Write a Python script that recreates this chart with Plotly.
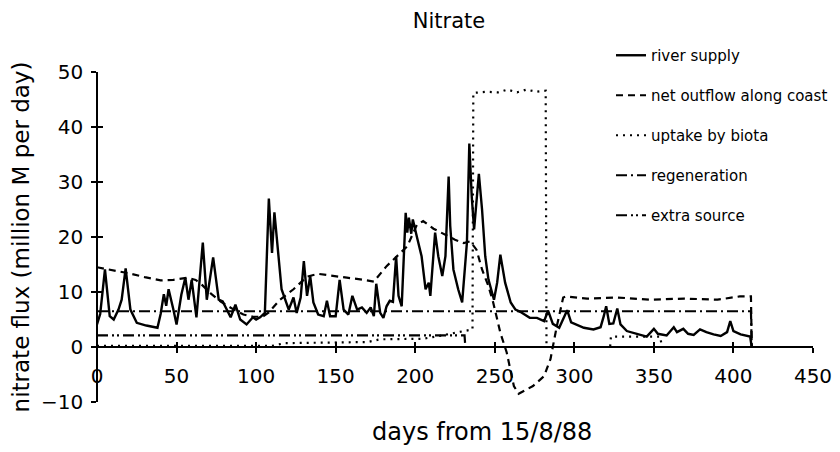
import plotly.graph_objects as go

# ---------------- data ----------------
river_day = [0, 2, 5, 8, 10.5, 13.5, 15.5, 18, 21, 25, 31, 38, 40, 42, 43.5, 45, 48, 50, 53, 55.5,
             57.5, 59.5, 62.5, 66.5, 69, 73, 76.5, 79, 84, 87, 90, 94, 98, 100, 102.5, 105.5, 108,
             110, 111.5, 114, 116, 120.5, 123.5, 125.5, 128, 130, 132, 134, 136, 139, 142.5, 144.5,
             146.5, 150, 152.5, 155, 158, 160.5, 163.5, 166.5, 169.5, 172, 174, 175.5, 178, 180, 182,
             184, 186, 188, 189.5, 191.5, 194, 195, 196, 197.5, 198.5, 201, 204, 206.5, 208.5, 209.5,
             212.5, 214.5, 217, 219, 221, 222, 224, 227, 229.5, 232.5, 234, 235.5, 237, 240, 242, 244,
             246, 249.5, 251.5, 253.5, 256.5, 260, 263, 266, 270, 272, 276.5, 281, 283.5, 286.5, 290.5,
             295.5, 298, 302, 306, 312, 316.5, 318.5, 320, 322, 324.5, 327, 329, 333, 339.5, 345.5,
             350, 352.5, 358, 362.5, 364.5, 368.5, 371.5, 375, 379, 383, 387.5, 392, 396, 398, 400,
             404.5, 410.5, 411.5]
river_val = [4.1, 6.0, 14.1, 5.6, 5.0, 6.8, 8.6, 14.3, 6.8, 4.4, 3.9, 3.5, 6.0, 9.6, 7.5, 10.5, 6.8, 4.1, 9.5, 12.6,
             8.6, 12.2, 5.4, 19.0, 8.6, 16.3, 8.6, 8.3, 5.4, 7.7, 5.0, 4.1, 5.4, 5.0, 5.4, 6.2, 27.0,
             17.1, 24.5, 17.1, 10.5, 6.8, 9.0, 6.2, 9.0, 15.6, 9.3, 12.9, 8.1, 5.9, 5.6, 8.4,
             5.6, 5.6, 12.2, 6.8, 5.9, 9.3, 6.8, 7.2, 6.2, 7.2, 5.6, 11.5, 6.2, 5.3, 7.4,
             8.4, 8.2, 16.5, 9.3, 7.4, 24.4, 20.8, 23.5, 20.6, 23.2, 20.1, 16.5, 10.5, 11.7, 9.3,
             20.8, 16.5, 12.9, 16.5, 31.0, 22.0, 14.1, 10.5, 8.1, 19.0, 37.0, 27.4, 21.4, 31.5, 25.0, 16.5,
             12.3, 8.6, 11.7, 16.8, 11.7, 8.1, 6.8, 6.4, 5.6, 5.3, 5.3, 4.7, 6.6, 4.2, 3.5,
             6.7, 4.5, 4.0, 3.5, 3.2, 3.6, 5.6, 7.4, 4.2, 4.3, 7.0, 4.1, 2.9, 2.4, 1.9,
             3.3, 2.4, 2.1, 3.6, 2.7, 3.3, 2.4, 2.2, 3.2, 2.7, 2.3, 2.0, 2.7, 4.7, 2.9,
             2.3, 1.9, 0.0]

outflow_day = [0, 10, 20, 30, 40, 48, 57, 62, 66, 72, 78, 86, 92, 98, 104, 108, 115, 123.5, 132, 139,
               148, 157, 165.5, 174, 182, 188.5, 195, 201, 205, 211.5, 218, 225, 230.5, 234.5, 238.5,
               242, 246, 249, 253.5, 257.5, 262, 265, 274, 281, 285, 289, 293, 295, 308, 327, 348,
               369, 390, 404, 411, 411.5]
outflow_val = [14.5, 14.0, 13.4, 12.7, 12.1, 12.2, 12.6, 12.2, 11.3, 9.6, 8.2, 6.8, 5.9, 5.5, 5.5, 6.3, 8.6, 10.5, 12.8, 13.3,
               12.9, 12.6, 12.3, 11.9, 14.7, 16.5, 18.3, 22.2, 22.9, 21.5, 20.6, 19.5, 18.9, 19.2, 17.7,
               14.1, 11.1, 8.1, 2.6, -1.0, -7.1, -8.5, -7.1, -5.3, -2.2, 3.8, 9.0, 9.2, 8.8, 9.0, 8.6,
               8.8, 8.6, 9.2, 9.2, 0.0]

uptake_day = [0, 110, 118, 150, 170, 178, 205, 215, 226, 236, 236.5, 245, 252, 258, 264, 270, 276, 282,
              282.5, 322.5, 323, 354, 355, 411.5]
uptake_val = [0.2, 0.2, 0.7, 0.8, 0.9, 1.4, 1.5, 2.0, 2.6, 3.2, 46.2, 46.4, 46.3, 46.8, 46.3, 46.8, 46.4, 46.6,
              0.0, 0.0, 1.9, 1.9, 0.0, 0.0]

regen_day = [0, 100, 200, 300, 411, 411.5]
regen_val = [6.5, 6.5, 6.5, 6.5, 6.5, 0.0]

extra_day = [0, 100, 200, 231, 231.5, 411.5]
extra_val = [2.1, 2.1, 2.1, 2.1, 0.0, 0.0]

x_ticks = [0, 50, 100, 150, 200, 250, 300, 350, 400, 450]
y_ticks = [-10, 0, 10, 20, 30, 40, 50]

TITLE = "Nitrate"
X_TITLE = "days from 15/8/88"
Y_TITLE = "nitrate flux (million M per day)"

FONT = "DejaVu Sans"

series = [
    ("river supply", river_day, river_val, "solid", 2.4),
    ("net outflow along coast", outflow_day, outflow_val, "7px,5px", 2.2),
    ("uptake by biota", uptake_day, uptake_val, "2px,5px", 2.2),
    ("regeneration", regen_day, regen_val, "11px,4px,2px,4px", 2.2),
    ("extra source", extra_day, extra_val, "11px,4px,2px,3px,2px,4px", 2.2),
]

fig = go.Figure()
for i, (name, xd, yd, dash, w) in enumerate(series):
    fig.add_trace(go.Scatter(x=xd, y=yd, mode="lines", name=name, legendgroup=f"g{i}",
                             line=dict(color="black", width=w, dash=dash)))

# helper (empty) trace so that the crossing-tick overlay axes are drawn
fig.add_trace(go.Scatter(x=[], y=[], xaxis="x2", yaxis="y2", showlegend=False, hoverinfo="skip"))

axis_common = dict(showgrid=False, zeroline=False, color="black", linecolor="black")

# the page body has an 8px margin, so the figure is 832x444 placed at (8, 8)
W, H, OFF = 832, 444, 8
L, T = 97 - OFF, 72 - OFF
PW, PH = 716, 330

fig.update_layout(
    width=W, height=H,
    margin=dict(l=L, r=W - L - PW, t=T, b=H - T - PH, autoexpand=False),
    paper_bgcolor="white", plot_bgcolor="white",
    font=dict(family=FONT, color="black", size=16),
    title=dict(text=TITLE, x=(449 - OFF) / W, xref="container", xanchor="center",
               y=1 - (21 - OFF) / H, yref="container", yanchor="middle",
               font=dict(family=FONT, size=21, color="black")),
    xaxis=dict(range=[0, 450], domain=[0, 1], anchor="free", position=10 / 60,
               showline=True, linewidth=1.5, ticks="outside", ticklen=5, tickwidth=1.5,
               tickvals=x_ticks, tickfont=dict(size=20), ticklabelstandoff=6,
               automargin=False, **axis_common),
    xaxis2=dict(range=[0, 450], matches="x", overlaying="x", anchor="free", position=10 / 60,
                showline=False, ticks="inside", ticklen=5, tickwidth=1.5, tickvals=x_ticks,
                showticklabels=False, automargin=False, **axis_common),
    yaxis=dict(range=[-10, 50], domain=[0, 1], anchor="free", position=0,
               showline=True, linewidth=1.5, ticks="outside", ticklen=5, tickwidth=1.5,
               tickvals=y_ticks, tickfont=dict(size=20), ticklabelstandoff=4,
               title=dict(text=Y_TITLE, font=dict(size=23), standoff=8),
               automargin=False, **axis_common),
    yaxis2=dict(range=[-10, 50], matches="y", overlaying="y", anchor="free", position=0,
                showline=False, ticks="inside", ticklen=5, tickwidth=1.5, tickvals=y_ticks,
                showticklabels=False, automargin=False, **axis_common),
    annotations=[dict(text=X_TITLE, xref="paper", yref="paper", x=(482 - 97) / PW, y=0,
                      xanchor="center", yanchor="middle", yshift=-30, showarrow=False,
                      font=dict(family=FONT, size=24, color="black"))],
    showlegend=True,
    legend=dict(x=(611 - 97) / PW, y=(402 - 39) / PH, xanchor="left", yanchor="top",
                bgcolor="rgba(0,0,0,0)", borderwidth=0, tracegroupgap=17.5,
                font=dict(family=FONT, size=15, color="black")),
)

fig.write_html("out.html")
